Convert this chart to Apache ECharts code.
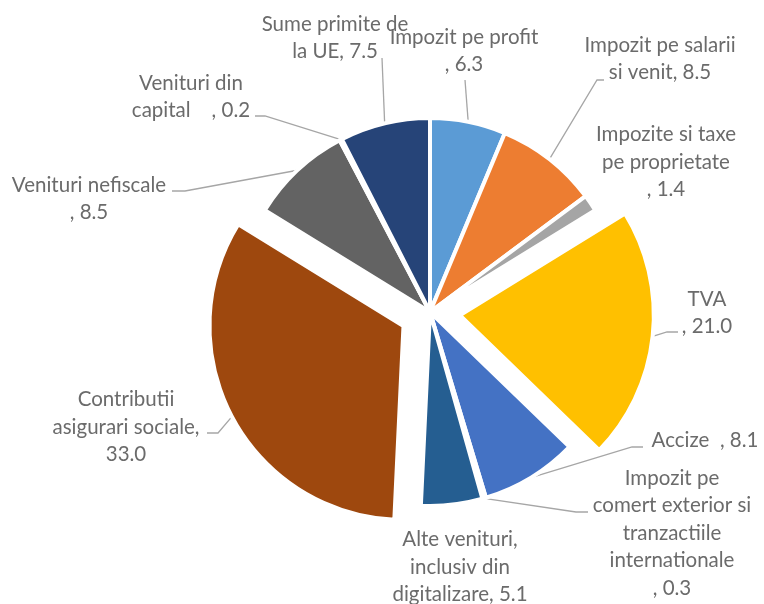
<!DOCTYPE html>
<html>
<head>
<meta charset="utf-8">
<script src="https://cdn.jsdelivr.net/npm/echarts@6/dist/echarts.min.js"></script>
<style>
  html, body { margin: 0; padding: 0; background: #fff; }
  #chart { width: 764px; height: 604px; }
</style>
</head>
<body>
<div id="chart"></div>
<script>
  // categories, clockwise from 12 o'clock
  var categories = [
    'Impozit pe profit',
    'Impozit pe salarii si venit',
    'Impozite si taxe pe proprietate',
    'TVA',
    'Accize',
    'Impozit pe comert exterior si tranzactiile internationale',
    'Alte venituri, inclusiv din digitalizare',
    'Contributii asigurari sociale',
    'Venituri nefiscale',
    'Venituri din capital',
    'Sume primite de la UE'
  ];
  var values = [6.3, 8.5, 1.4, 21.0, 8.1, 0.3, 5.1, 33.0, 8.5, 0.2, 7.5];

  // label text as wrapped in the original (value appended)
  var labelHeads = [
    'Impozit pe profit\n, ',
    'Impozit pe salarii\nsi venit, ',
    'Impozite si taxe\npe proprietate\n, ',
    'TVA\n, ',
    'Accize  , ',
    'Impozit pe\ncomert exterior si\ntranzactiile\ninternationale\n, ',
    'Alte venituri,\ninclusiv din\ndigitalizare, ',
    'Contributii\nasigurari sociale,\n',
    'Venituri nefiscale\n, ',
    'Venituri din\ncapital    , ',
    'Sume primite de\nla UE, '
  ];
  var exploded = ['TVA', 'Contributii asigurari sociale'];
  var noLeader = ['Impozite si taxe pe proprietate', 'Alte venituri, inclusiv din digitalizare'];

  var colors = ['#5B9BD5', '#ED7D31', '#A5A5A5', '#FFC000', '#4472C4', '#70AD47',
                '#255E91', '#9E480E', '#636363', '#997300', '#264478'];

  var OFFSET = 30;

  // manual label placement (centre of each text block) and leader knees
  var labelPos = [
    [464, 51], [660, 59], [666, 162], [707, 313], [705, 440], [672, 533],
    [460, 567], [126, 427], [89, 199], [191, 97], [335, 38]
  ];
  var leaderKnee = [
    [[465, 80], [465, 80]],
    [[597, 80], [604, 80]],
    null,
    [[667, 332], [678, 332]],
    [[632, 447], [643, 447]],
    [[576, 512], [588, 512]],
    null,
    [[218, 433], [207, 433]],
    [[185, 191], [172, 191]],
    [[265, 116], [255, 116]],
    [[382, 58], [382, 58]]
  ];

  // how far an exploded slice moves (along its mid angle)
  var total = values.reduce(function (a, b) { return a + b; }, 0);
  function sliceShift(i) {
    if (exploded.indexOf(categories[i]) < 0) return [0, 0];
    var before = 0;
    for (var k = 0; k < i; k++) before += values[k];
    var a = (before + values[i] / 2) / total * Math.PI * 2;
    return [OFFSET * Math.sin(a), -OFFSET * Math.cos(a)];
  }

  var hidden = { color: 'transparent', borderWidth: 0 };

  // series 1: the slices that stay in place + every label
  var baseData = categories.map(function (name, i) {
    var isOut = exploded.indexOf(name) >= 0;
    return {
      name: name,
      value: values[i],
      itemStyle: isOut ? hidden : { color: colors[i] },
      labelLine: { show: noLeader.indexOf(name) < 0 }
    };
  });

  // series 2: only the exploded slices, pulled out through selection
  var outData = categories.map(function (name, i) {
    var isOut = exploded.indexOf(name) >= 0;
    return {
      name: name,
      value: values[i],
      selected: isOut,
      itemStyle: isOut ? { color: colors[i] } : hidden
    };
  });

  var chart = echarts.init(document.getElementById('chart'));

  var common = {
    type: 'pie',
    center: [430, 312],
    radius: 194,
    startAngle: 90,
    clockwise: true,
    avoidLabelOverlap: false,
    minShowLabelAngle: 0,
    itemStyle: { borderColor: '#fff', borderWidth: 4 },
    emphasis: { disabled: true }
  };

  var option = {
    animation: false,
    series: [
      Object.assign({}, common, {
        label: {
          show: true,
          position: 'outside',
          fontFamily: 'Lato',
          fontSize: 20.5,
          lineHeight: 27.5,
          color: '#6b6b6b',
          align: 'center',
          formatter: function (p) {
            return labelHeads[p.dataIndex] + values[p.dataIndex].toFixed(1);
          }
        },
        labelLine: {
          show: true,
          length: 15,
          length2: 10,
          smooth: false,
          lineStyle: { color: '#A6A6A6', width: 1.3 }
        },
        labelLayout: function (params) {
          var i = params.dataIndex;
          var res = {
            x: labelPos[i][0],
            y: labelPos[i][1],
            align: 'center',
            verticalAlign: 'middle'
          };
          if (leaderKnee[i] && params.labelLinePoints) {
            var s = sliceShift(i);
            var p0 = params.labelLinePoints[0];
            res.labelLinePoints = [[p0[0] + s[0], p0[1] + s[1]], leaderKnee[i][0], leaderKnee[i][1]];
          }
          return res;
        },
        data: baseData
      }),
      Object.assign({}, common, {
        selectedMode: 'multiple',
        selectedOffset: OFFSET,
        label: { show: false },
        labelLine: { show: false },
        data: outData
      })
    ]
  };

  chart.setOption(option);
</script>
</body>
</html>
